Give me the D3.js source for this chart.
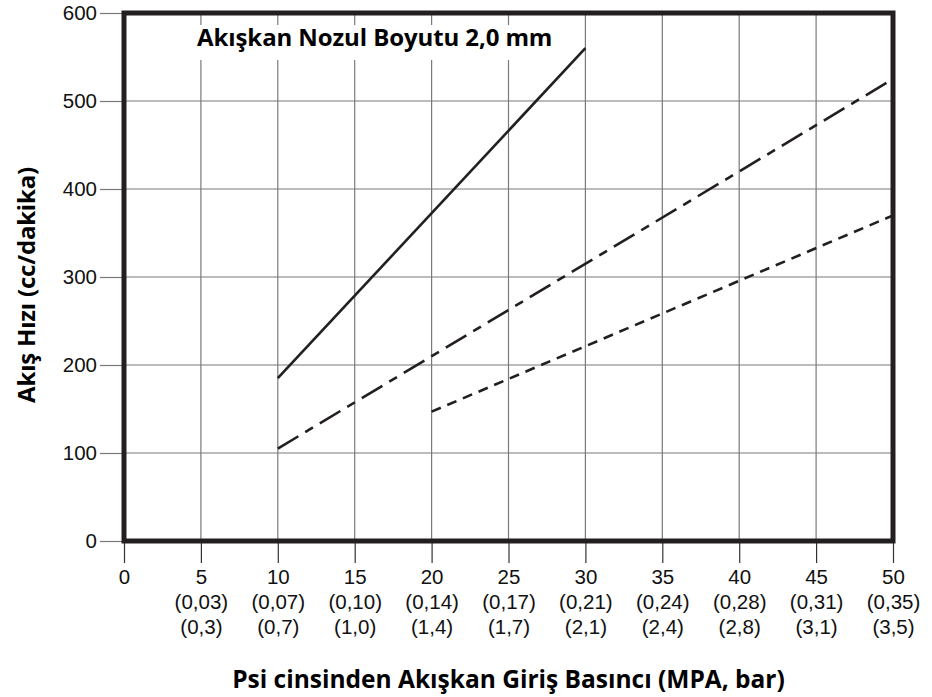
<!DOCTYPE html>
<html>
<head>
<meta charset="utf-8">
<script src="https://cdn.jsdelivr.net/npm/d3@7"></script>
<style>
  body { margin: 0; background: #fff; }
  svg { display: block; }
</style>
</head>
<body>
<svg id="chart" width="932" height="697"></svg>
<script>
const xTicks = [0, 5, 10, 15, 20, 25, 30, 35, 40, 45, 50];
const mpaLabels = ["", "(0,03)", "(0,07)", "(0,10)", "(0,14)", "(0,17)", "(0,21)", "(0,24)", "(0,28)", "(0,31)", "(0,35)"];
const barLabels = ["", "(0,3)", "(0,7)", "(1,0)", "(1,4)", "(1,7)", "(2,1)", "(2,4)", "(2,8)", "(3,1)", "(3,5)"];
const yTicks = [0, 100, 200, 300, 400, 500, 600];

const solidLine = [{ x: 10, y: 185 }, { x: 30, y: 560 }];
const dashDotLine = [{ x: 10, y: 105 }, { x: 50, y: 525 }];
const shortDashLine = [{ x: 20, y: 147 }, { x: 50, y: 370 }];

const title = "Akışkan Nozul Boyutu 2,0 mm";
const xTitle = "Psi cinsinden Akışkan Giriş Basıncı (MPA, bar)";
const yTitle = "Akış Hızı (cc/dakika)";

const svg = d3.select("#chart");
const margin = { top: 13, right: 39, bottom: 156, left: 124 };
const width = 932 - margin.left - margin.right;
const height = 697 - margin.top - margin.bottom;

const g = svg.append("g").attr("transform", `translate(${margin.left},${margin.top})`);

const x = d3.scaleLinear().domain([0, 50]).range([0, width]);
const y = d3.scaleLinear().domain([0, 600]).range([height, 0]);

const gridColor = "#7a7a7a";
const ink = "#231f20";
const tickFont = "'Liberation Sans', Arial, sans-serif";
const boldFont = "'Open Sans', sans-serif";

// grid
g.append("g")
  .selectAll("line")
  .data(xTicks.slice(1, -1))
  .join("line")
  .attr("x1", (d) => x(d)).attr("x2", (d) => x(d))
  .attr("y1", 0).attr("y2", height)
  .attr("stroke", gridColor).attr("stroke-width", 1.2);

g.append("g")
  .selectAll("line")
  .data(yTicks.slice(1, -1))
  .join("line")
  .attr("x1", 0).attr("x2", width)
  .attr("y1", (d) => y(d)).attr("y2", (d) => y(d))
  .attr("stroke", gridColor).attr("stroke-width", 1.2);

// title with white backing over the grid
g.append("rect")
  .attr("x", x(4.4)).attr("y", 12)
  .attr("width", x(28.3) - x(4.4)).attr("height", 35)
  .attr("fill", "#fff");

g.append("text")
  .attr("x", x(4.75)).attr("y", 33)
  .attr("font-family", boldFont)
  .attr("font-weight", "bold")
  .attr("font-size", 24)
  .attr("letter-spacing", -0.1)
  .attr("fill", "#000")
  .text(title);

// y axis
const yg = g.append("g")
  .call(d3.axisLeft(y).tickValues(yTicks).tickSize(24).tickPadding(3));
yg.select(".domain").remove();
yg.selectAll(".tick line").attr("stroke", gridColor).attr("stroke-width", 1.2);
yg.selectAll(".tick text")
  .attr("font-family", tickFont)
  .attr("font-size", 20.5).attr("fill", "#111");

// x axis with three label lines
const xg = g.append("g")
  .attr("transform", `translate(0,${height})`)
  .call(d3.axisBottom(x).tickValues(xTicks).tickSize(22).tickPadding(6));
xg.select(".domain").remove();
xg.selectAll(".tick line").attr("stroke", "#333").attr("stroke-width", 1.2);
xg.selectAll(".tick text")
  .attr("font-family", tickFont)
  .attr("font-size", 20.5).attr("fill", "#111")
  .text(null)
  .each(function (d, i) {
    const t = d3.select(this);
    t.append("tspan").attr("x", 0).text(d);
    if (!mpaLabels[i]) return;
    t.append("tspan").attr("x", 0).attr("dy", "1.24em").text(mpaLabels[i]);
    t.append("tspan").attr("x", 0).attr("dy", "1.22em").text(barLabels[i]);
  });

// series
const line = d3.line().x((d) => x(d.x)).y((d) => y(d.y));

const series = [
  { data: solidLine, dash: null },
  { data: dashDotLine, dash: "24,8,9,8" },
  { data: shortDashLine, dash: "10,7" },
];

for (const { data, dash } of series)
  g.append("path")
    .attr("d", line(data))
    .attr("fill", "none")
    .attr("stroke", ink)
    .attr("stroke-width", 2.6)
    .attr("stroke-dasharray", dash);

// frame
g.append("rect")
  .attr("x", 0).attr("y", 0)
  .attr("width", width).attr("height", height)
  .attr("fill", "none")
  .attr("stroke", ink)
  .attr("stroke-width", 5);

// axis titles
svg.append("text")
  .attr("x", margin.left + width / 2)
  .attr("y", 688)
  .attr("text-anchor", "middle")
  .attr("font-family", boldFont)
  .attr("font-weight", "bold")
  .attr("font-size", 24.5)
  .attr("fill", "#000")
  .text(xTitle);

svg.append("text")
  .attr("transform", `translate(35,285) rotate(-90)`)
  .attr("text-anchor", "middle")
  .attr("font-family", boldFont)
  .attr("font-weight", "bold")
  .attr("font-size", 24)
  .attr("letter-spacing", -0.2)
  .attr("fill", "#000")
  .text(yTitle);
</script>
</body>
</html>
